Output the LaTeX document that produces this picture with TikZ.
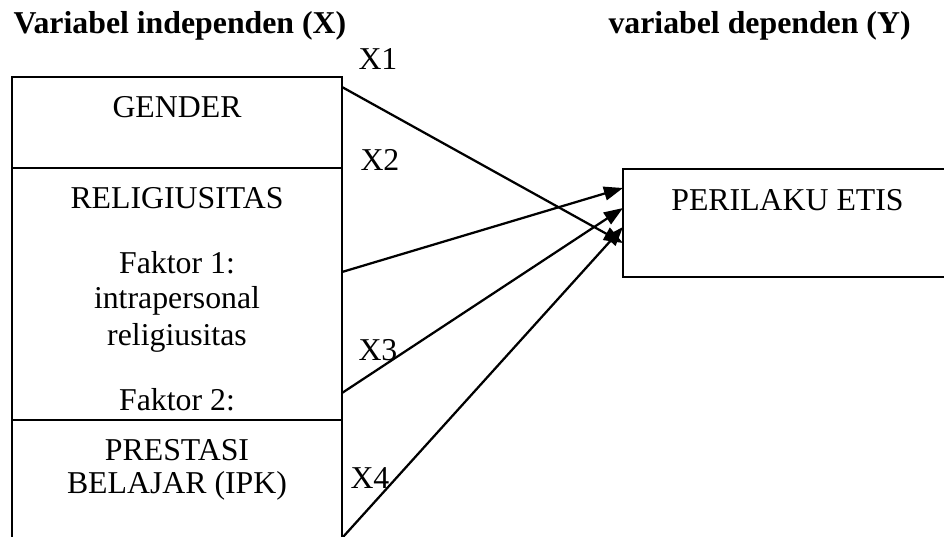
\documentclass[tikz,border=0pt]{standalone}
\usepackage{fontspec}
\setmainfont{Liberation Serif}
\usetikzlibrary{arrows.meta}
\begin{document}
\begin{tikzpicture}[x=0.3774pt,y=-0.3774pt,
  box/.style={draw,line width=0.75pt,rectangle,inner sep=0pt},
  txt/.style={inner sep=0pt,anchor=base,font=\fontsize{12pt}{14pt}\selectfont},
  lbl/.style={inner sep=0pt,anchor=base west,font=\fontsize{12pt}{14pt}\selectfont},
  ttl/.style={inner sep=0pt,anchor=base west,font=\fontsize{12pt}{14pt}\selectfont\bfseries},
  conn/.style={line width=0.85pt,-{Triangle[length=7.2pt,width=5.2pt]}}]
\useasboundingbox (0,0) rectangle (944,536);
\clip (0,0) rectangle (944,536);
% boxes
\node[box,minimum width=124.54pt,minimum height=34.34pt] (gender) at (177,122.5) {};
\node[box,minimum width=124.54pt,minimum height=95.1pt] (relig) at (177,294) {};
\node[box,minimum width=124.54pt,minimum height=52.8pt] (prestasi) at (177,490) {};
\node[box,minimum width=127.2pt,minimum height=40.76pt] (perilaku) at (791.5,223) {};
% titles
\node[ttl] (t1) at (13,33) {Variabel independen (X)};
\node[ttl] (t2) at (608,33) {variabel dependen (Y)};
% box texts
\node[txt] (g1) at (177,117) {GENDER};
\node[txt] (r1) at (177,208) {RELIGIUSITAS};
\node[txt] (r2) at (177,273) {Faktor 1:};
\node[txt] (r3) at (177,308) {intrapersonal};
\node[txt] (r4) at (177,345) {religiusitas};
\node[txt] (r5) at (177,410) {Faktor 2:};
\node[txt] (p1) at (177,460) {PRESTASI};
\node[txt] (p2) at (177,493) {BELAJAR (IPK)};
\node[txt] (e1) at (787.5,210) {PERILAKU ETIS};
% labels
\node[lbl] (x1) at (358,69) {X1};
\node[lbl] (x2) at (360,170) {X2};
\node[lbl] (x3) at (358,360) {X3};
\node[lbl] (x4) at (350,488) {X4};
% connector points
\coordinate (s1) at (342,87);
\coordinate (s2) at (342,272);
\coordinate (s3) at (342,393);
\coordinate (s4) at (343,537);
\coordinate (e1p) at (623,243);
\coordinate (e2p) at (623,188);
\coordinate (e3p) at (623,208);
\coordinate (e4p) at (623,227);
\draw[conn] (s1) -- (e1p);
\draw[conn] (s2) -- (e2p);
\draw[conn] (s3) -- (e3p);
\draw[conn] (s4) -- (e4p);
\end{tikzpicture}
\end{document}
